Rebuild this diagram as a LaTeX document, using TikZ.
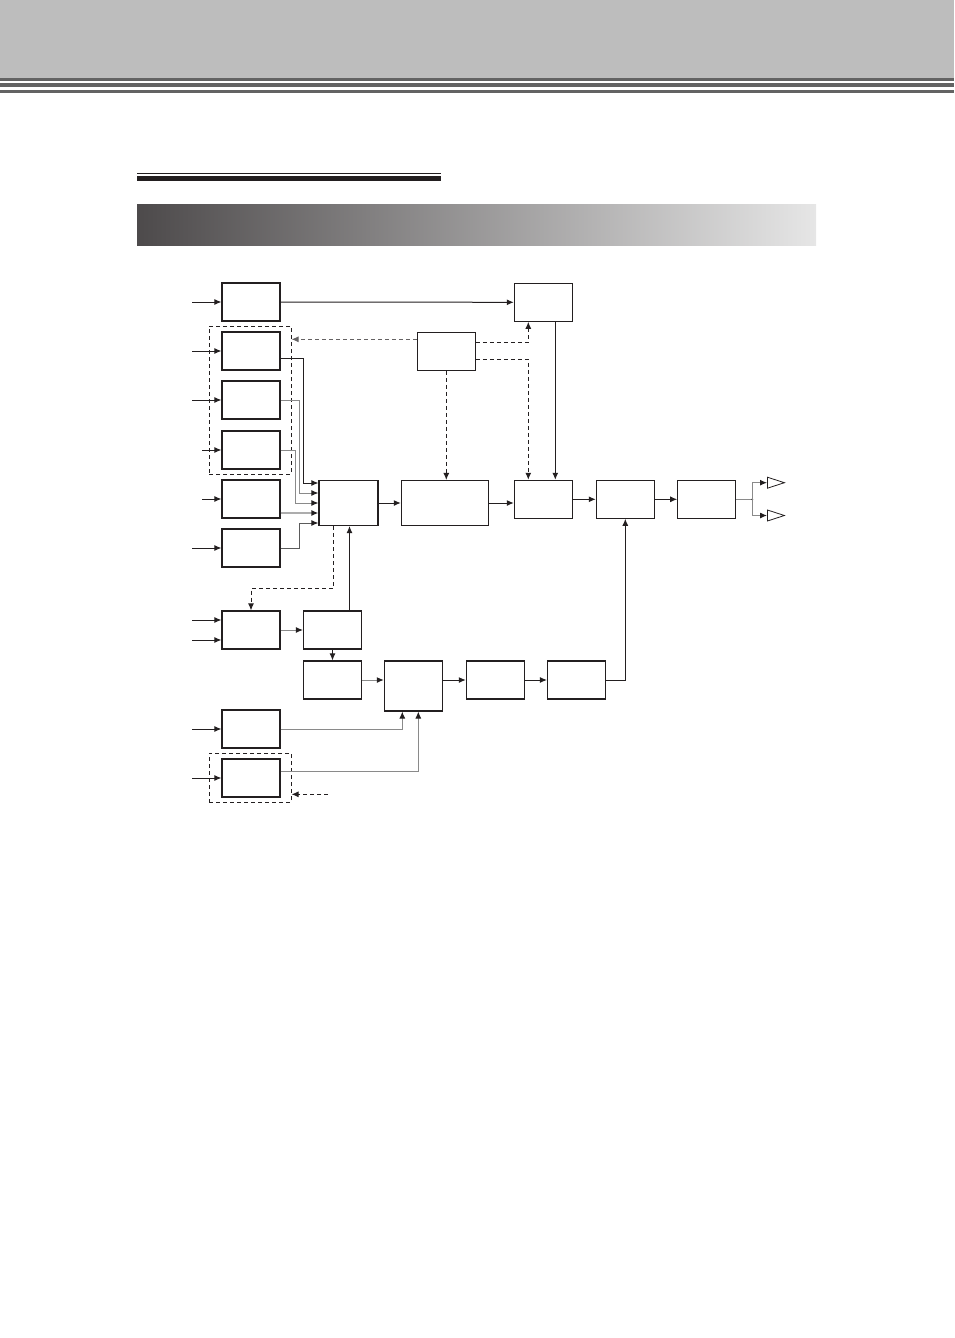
\documentclass[tikz,border=0pt]{standalone}
\usepackage{tikz}
\usepackage{xcolor}
\usetikzlibrary{arrows.meta}
\usetikzlibrary{shapes}
\definecolor{ink}{HTML}{231F20}
\definecolor{band}{HTML}{BDBDBD}
\definecolor{rule}{HTML}{636363}
\definecolor{wire}{HTML}{8A8A8A}
\definecolor{barl}{HTML}{4D4A4B}
\definecolor{barm}{HTML}{858385}
\definecolor{barr}{HTML}{E6E6E6}
\tikzset{box/.style={draw=ink,line width=1.1pt,minimum width=58pt,minimum height=38pt,inner sep=0pt},
 wide/.style={box,minimum width=59pt,minimum height=45pt},
 dgroup/.style={draw=ink,line width=1pt,dash pattern=on 4pt off 3pt,inner sep=0pt},
 link/.style={draw=ink,line width=1pt,-{Latex[length=7pt,width=6pt]}},
 ctl/.style={link,dash pattern=on 4pt off 3pt},
 dimlink/.style={link,draw=wire,-{Latex[length=7pt,width=6pt,color=ink]}},
 amp/.style={draw=ink,line width=0.8pt,isosceles triangle,isosceles triangle stretches,
   minimum width=11pt,minimum height=17pt,inner sep=0pt,anchor=lower side},
 }

\begin{document}
\begin{tikzpicture}[x=1pt,y=-1pt]
\useasboundingbox (0,0) rectangle (954,1338);
% page head
\fill[band] (0,0) rectangle (954,78);
\fill[rule] (0,78) rectangle (954,80.5);
\fill[rule] (0,83) rectangle (954,87);
\fill[rule] (0,90) rectangle (954,93);
\fill[ink] (137,173) rectangle (441,174.3);
\fill[ink] (137,176) rectangle (441,180.5);
\shade[left color=barl,middle color=barm,right color=barr] (137,204) rectangle (816,245.5);

% blocks
\node[box] (a1) at (251,302) {};
\node[box] (a2) at (251,351) {};
\node[box] (a3) at (251,400) {};
\node[box] (a4) at (251,450) {};
\node[box] (b1) at (251,499) {};
\node[box] (b2) at (251,548) {};
\node[box] (c1) at (251,630) {};
\node[box] (f1) at (251,729) {};
\node[box] (f2) at (251,778) {};
\node[box] (c2) at (332.5,630) {};
\node[box] (d1) at (332.5,680) {};
\node[wide] (mx) at (348.5,503) {};
\node[box] (ctrl) at (446.3,351.3) {};
\node[box] (top) at (543.3,302.3) {};
\node[wide,minimum width=87pt] (pr) at (444.8,503) {};
\node[box] (sw) at (543.3,499.3) {};
\node[box] (v) at (625.3,499.3) {};
\node[box] (w) at (706.7,499.3) {};
\node[box,minimum height=50pt] (e) at (413.3,686) {};
\node[box] (l1) at (495.3,680) {};
\node[box] (l2) at (576.5,680) {};
\node[dgroup,minimum width=82pt,minimum height=148pt] (grpA) at (250,400) {};
\node[dgroup,minimum width=82pt,minimum height=49pt] (grpF) at (250,777.7) {};
\node[amp] (o1) at (767,482.7) {};
\node[amp] (o2) at (767,515.5) {};

% inputs
\draw[link] (a1.west) ++(-29,0) -- (a1.west);
\draw[link] (a2.west) ++(-29,0) -- (a2.west);
\draw[link] (a3.west) ++(-29,0) -- (a3.west);
\draw[link] (a4.west) ++(-19,0) -- (a4.west);
\draw[link] (b1.west) ++(-19,0) -- (b1.west);
\draw[link] (b2.west) ++(-29,0) -- (b2.west);
\draw[link] ([yshift=10pt]c1.west) ++(-29,0) -- ([yshift=10pt]c1.west);
\draw[link] ([yshift=-10pt]c1.west) ++(-29,0) -- ([yshift=-10pt]c1.west);
\draw[link] (f1.west) ++(-29,0) -- (f1.west);
\draw[link] (f2.west) ++(-29,0) -- (f2.west);

% into the mixer
\draw[link] ([yshift=-7pt]a2.east) -- ++(23,0) |- ([yshift=20pt]mx.west);
\draw[dimlink] (a3.east) -- ++(18.7,0) |- ([yshift=10pt]mx.west);
\draw[dimlink] (a4.east) -- ++(14.7,0) |- (mx.west);
\draw[dimlink,draw=wire!70,line width=1.6pt] ([yshift=-10pt]mx.west -| b1.east) -- ([yshift=-10pt]mx.west);
\draw[dimlink,draw=wire!140] (b2.east) -- ++(18.7,0) |- ([yshift=-20pt]mx.west);
\draw[link] (a1.east) -- (top.west);

% main chain
\draw[link] (mx.east) -- (pr.west);
\draw[link] (pr.east) -- (pr.east -| sw.west);
\draw[link] (sw.east) -- (v.west);
\draw[link] (v.east) -- (w.west);
\draw[draw=wire,line width=1pt] (w.east) -- ++(16,0) coordinate (jn);
\fill[ink] (jn) circle (1pt);
\draw[dimlink] (jn) |- (o1.lower side);
\draw[dimlink] (jn) |- (o2.lower side);
\draw[link] ([xshift=12pt]top.south) -- ([xshift=12pt]sw.north);

% control
\draw[ctl,draw=ink!70] ([yshift=12pt]ctrl.west) -- ([yshift=12pt]ctrl.west -| grpA.east);
\draw[ctl] ([yshift=9pt]ctrl.east) -| ([xshift=-15pt]top.south);
\draw[ctl] ([yshift=-8pt]ctrl.east) -| ([xshift=-15pt]sw.north);
\draw[ctl] (ctrl.south) -- (ctrl.south |- pr.north);
\draw[ctl] ([xshift=-15pt]mx.south) -- ++(0,62) -| (c1.north);

% lower chain
\draw[dimlink] (c1.east) -- (c2.west);
\draw[link] ([xshift=17pt]c2.north) -- ([xshift=17pt]c2.north |- mx.south);
\draw[link] (c2.south) -- (d1.north);
\draw[dimlink] (d1.east) -- (d1.east -| e.west);
\draw[link] (l1.west -| e.east) -- (l1.west);
\draw[link] (l1.east) -- (l2.west);
\draw[link] (l2.east) -| (v.south);
\draw[dimlink] (f1.east) -| ([xshift=-11pt]e.south);
\draw[dimlink] ([yshift=7pt]f2.east) -| ([xshift=5pt]e.south);
\coordinate (fx) at (328,794.3);
\draw[ctl] (fx) -- (fx -| grpF.east);
\end{tikzpicture}
\end{document}
